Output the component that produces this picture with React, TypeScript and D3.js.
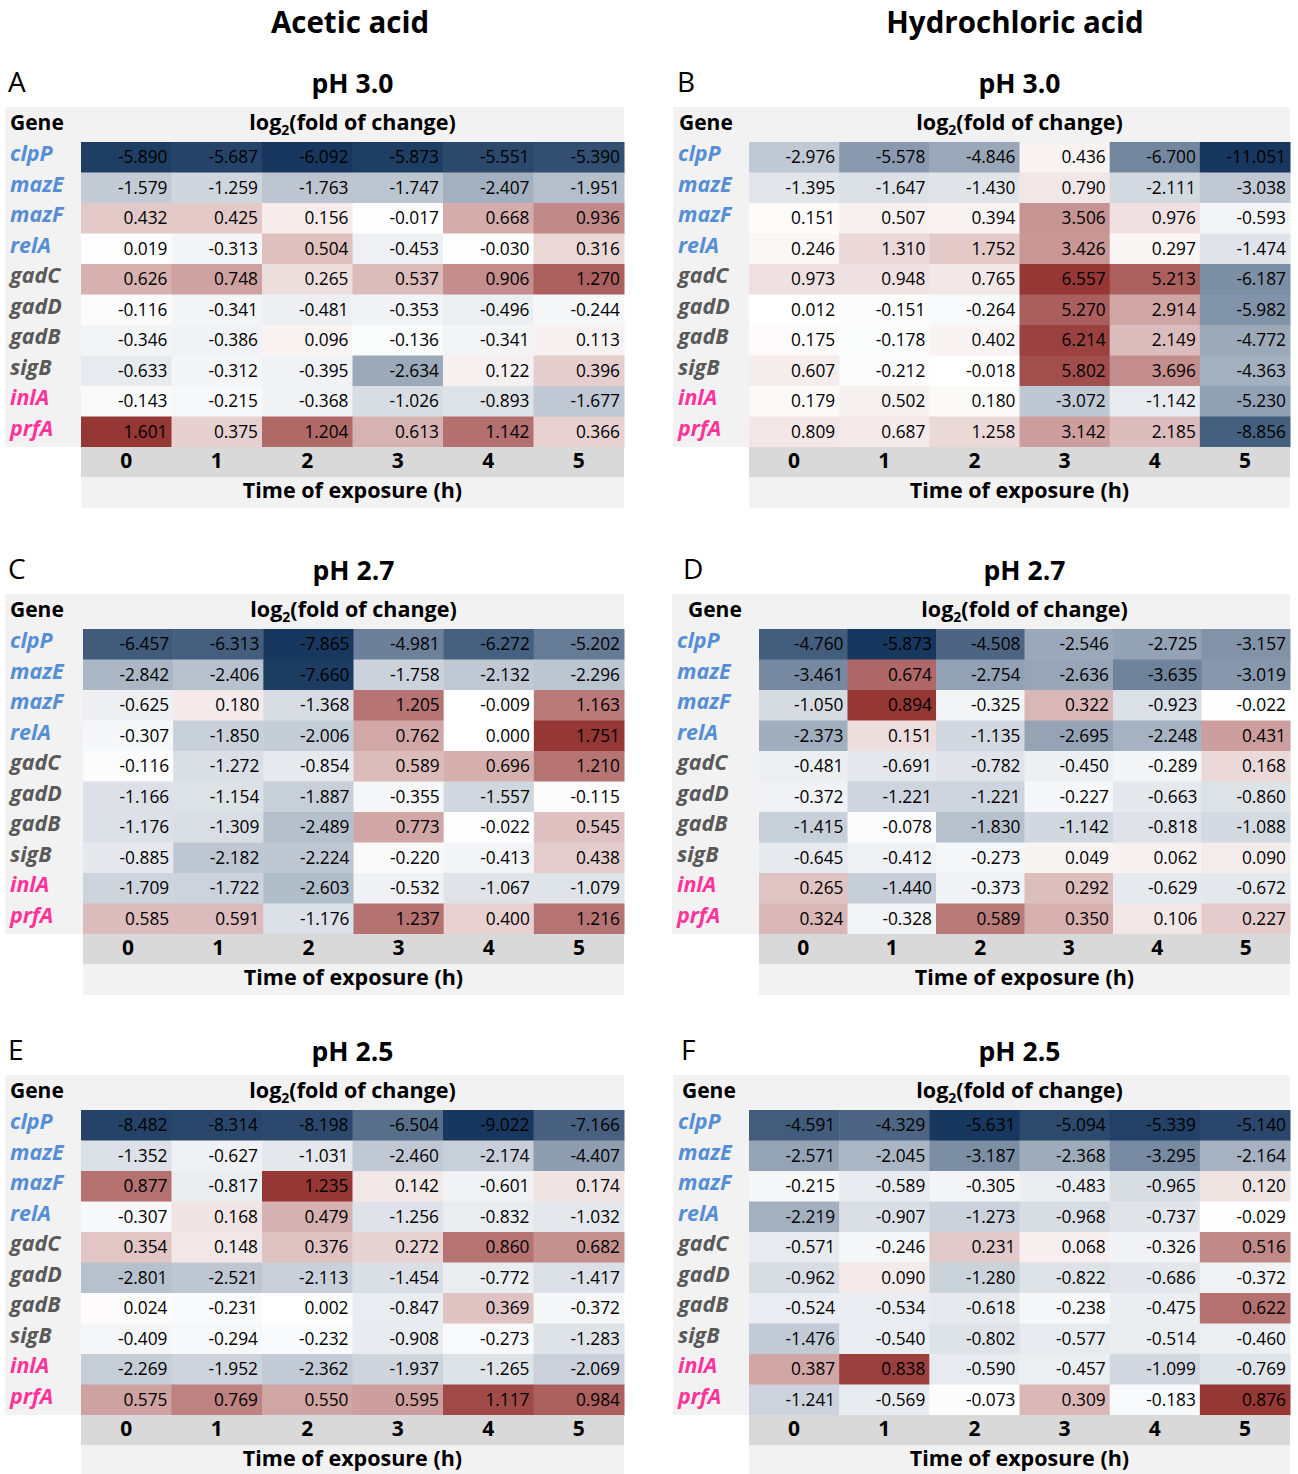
import React from "react";
import * as d3 from "d3";

// Genes (rows) and exposure times (columns)
const genes = ["clpP", "mazE", "mazF", "relA", "gadC", "gadD", "gadB", "sigB", "inlA", "prfA"];
const times = ["0", "1", "2", "3", "4", "5"];

// log2(fold of change) per gene (rows) x time (columns)
const aceticPH30 = [
  [-5.89, -5.687, -6.092, -5.873, -5.551, -5.39],
  [-1.579, -1.259, -1.763, -1.747, -2.407, -1.951],
  [0.432, 0.425, 0.156, -0.017, 0.668, 0.936],
  [0.019, -0.313, 0.504, -0.453, -0.03, 0.316],
  [0.626, 0.748, 0.265, 0.537, 0.906, 1.27],
  [-0.116, -0.341, -0.481, -0.353, -0.496, -0.244],
  [-0.346, -0.386, 0.096, -0.136, -0.341, 0.113],
  [-0.633, -0.312, -0.395, -2.634, 0.122, 0.396],
  [-0.143, -0.215, -0.368, -1.026, -0.893, -1.677],
  [1.601, 0.375, 1.204, 0.613, 1.142, 0.366],
];

const hclPH30 = [
  [-2.976, -5.578, -4.846, 0.436, -6.7, -11.051],
  [-1.395, -1.647, -1.43, 0.79, -2.111, -3.038],
  [0.151, 0.507, 0.394, 3.506, 0.976, -0.593],
  [0.246, 1.31, 1.752, 3.426, 0.297, -1.474],
  [0.973, 0.948, 0.765, 6.557, 5.213, -6.187],
  [0.012, -0.151, -0.264, 5.27, 2.914, -5.982],
  [0.175, -0.178, 0.402, 6.214, 2.149, -4.772],
  [0.607, -0.212, -0.018, 5.802, 3.696, -4.363],
  [0.179, 0.502, 0.18, -3.072, -1.142, -5.23],
  [0.809, 0.687, 1.258, 3.142, 2.185, -8.856],
];

const aceticPH27 = [
  [-6.457, -6.313, -7.865, -4.981, -6.272, -5.202],
  [-2.842, -2.406, -7.66, -1.758, -2.132, -2.296],
  [-0.625, 0.18, -1.368, 1.205, -0.009, 1.163],
  [-0.307, -1.85, -2.006, 0.762, 0.0, 1.751],
  [-0.116, -1.272, -0.854, 0.589, 0.696, 1.21],
  [-1.166, -1.154, -1.887, -0.355, -1.557, -0.115],
  [-1.176, -1.309, -2.489, 0.773, -0.022, 0.545],
  [-0.885, -2.182, -2.224, -0.22, -0.413, 0.438],
  [-1.709, -1.722, -2.603, -0.532, -1.067, -1.079],
  [0.585, 0.591, -1.176, 1.237, 0.4, 1.216],
];

const hclPH27 = [
  [-4.76, -5.873, -4.508, -2.546, -2.725, -3.157],
  [-3.461, 0.674, -2.754, -2.636, -3.635, -3.019],
  [-1.05, 0.894, -0.325, 0.322, -0.923, -0.022],
  [-2.373, 0.151, -1.135, -2.695, -2.248, 0.431],
  [-0.481, -0.691, -0.782, -0.45, -0.289, 0.168],
  [-0.372, -1.221, -1.221, -0.227, -0.663, -0.86],
  [-1.415, -0.078, -1.83, -1.142, -0.818, -1.088],
  [-0.645, -0.412, -0.273, 0.049, 0.062, 0.09],
  [0.265, -1.44, -0.373, 0.292, -0.629, -0.672],
  [0.324, -0.328, 0.589, 0.35, 0.106, 0.227],
];

const aceticPH25 = [
  [-8.482, -8.314, -8.198, -6.504, -9.022, -7.166],
  [-1.352, -0.627, -1.031, -2.46, -2.174, -4.407],
  [0.877, -0.817, 1.235, 0.142, -0.601, 0.174],
  [-0.307, 0.168, 0.479, -1.256, -0.832, -1.032],
  [0.354, 0.148, 0.376, 0.272, 0.86, 0.682],
  [-2.801, -2.521, -2.113, -1.454, -0.772, -1.417],
  [0.024, -0.231, 0.002, -0.847, 0.369, -0.372],
  [-0.409, -0.294, -0.232, -0.908, -0.273, -1.283],
  [-2.269, -1.952, -2.362, -1.937, -1.265, -2.069],
  [0.575, 0.769, 0.55, 0.595, 1.117, 0.984],
];

const hclPH25 = [
  [-4.591, -4.329, -5.631, -5.094, -5.339, -5.14],
  [-2.571, -2.045, -3.187, -2.368, -3.295, -2.164],
  [-0.215, -0.589, -0.305, -0.483, -0.965, 0.12],
  [-2.219, -0.907, -1.273, -0.968, -0.737, -0.029],
  [-0.571, -0.246, 0.231, 0.068, -0.326, 0.516],
  [-0.962, 0.09, -1.28, -0.822, -0.686, -0.372],
  [-0.524, -0.534, -0.618, -0.238, -0.475, 0.622],
  [-1.476, -0.54, -0.802, -0.577, -0.514, -0.46],
  [0.387, 0.838, -0.59, -0.457, -1.099, -0.769],
  [-1.241, -0.569, -0.073, 0.309, -0.183, 0.876],
];

const columnTitles = ["Acetic acid", "Hydrochloric acid"];

const FONT = "'Open Sans', 'Noto Sans', sans-serif";
const NAVY = "#17375e";
const RED = "#953735";
const LIGHT = "#f2f2f2";
const AXIS_BG = "#d9d9d9";

const geneColor = (g: string) => {
  if (["clpP", "mazE", "mazF", "relA"].includes(g)) return "#558ed5";
  if (["inlA", "prfA"].includes(g)) return "#ff3399";
  return "#595959";
};

type PanelProps = {
  letter: string;
  title: string;
  values: number[][];
  left: number;
  cellLeft: number;
  right: number;
  top: number;
  letterX: number;
  geneX: number;
};

const HEADER_H = 35;
const ROW_H = 30.5;
const AXIS_H = 30;
const TIME_H = 31;

function Panel({ letter, title, values, left, cellLeft, right, top, letterX, geneX }: PanelProps) {
  const rowsTop = top + HEADER_H;
  const rowsBottom = rowsTop + ROW_H * genes.length;
  const x = d3.scaleBand<string>().domain(times).range([cellLeft, right]);
  const y = d3.scaleBand<string>().domain(genes).range([rowsTop, rowsBottom]);
  const flat = values.flat();
  const lo = d3.min(flat) as number;
  const hi = d3.max(flat) as number;
  const color = d3
    .scaleLinear<string>()
    .domain([lo, 0, hi])
    .range([NAVY, "#ffffff", RED])
    .interpolate(d3.interpolateRgb)
    .clamp(true);
  const midX = (cellLeft + right) / 2;

  return (
    <g>
      <text x={letterX} y={top - 15} fontFamily={FONT} fontSize={28} fill="#000">
        {letter}
      </text>
      <text x={midX} y={top - 14} textAnchor="middle" fontFamily={FONT} fontSize={26.5} fontWeight={700} fill="#000">
        {title}
      </text>
      {/* header band and gene column */}
      <rect x={left} y={top} width={right - left} height={HEADER_H} fill={LIGHT} />
      <rect x={left} y={rowsTop} width={cellLeft - left} height={rowsBottom - rowsTop} fill={LIGHT} />
      <text x={geneX} y={top + 23} fontFamily={FONT} fontSize={21} fontWeight={700} fill="#000">
        Gene
      </text>
      <text x={midX} y={top + 23} textAnchor="middle" fontFamily={FONT} fontSize={21.5} fontWeight={700} fill="#000">
        log
        <tspan fontSize={14} dy={5}>2</tspan>
        <tspan dy={-5}>(fold of change)</tspan>
      </text>
      {genes.map((g, gi) => (
        <g key={g}>
          <text
            x={left + 5}
            y={(y(g) as number) + 19}
            fontFamily={FONT}
            fontSize={21.5}
            fontWeight={700}
            fontStyle="italic"
            fill={geneColor(g)}
          >
            {g}
          </text>
          {times.map((t, ti) => {
            const v = values[gi][ti];
            return (
              <g key={t}>
                <rect
                  x={x(t)}
                  y={y(g)}
                  width={x.bandwidth() + 0.5}
                  height={y.bandwidth() + 0.5}
                  fill={color(v)}
                />
                <text
                  x={(x(t) as number) + x.bandwidth() - 4}
                  y={(y(g) as number) + 21}
                  textAnchor="end"
                  fontFamily={FONT}
                  fontSize={17.3}
                  fill="#000"
                >
                  {v.toFixed(3)}
                </text>
              </g>
            );
          })}
        </g>
      ))}
      {/* time axis */}
      <rect x={cellLeft} y={rowsBottom} width={right - cellLeft} height={AXIS_H} fill={AXIS_BG} />
      {times.map((t) => (
        <text
          key={t}
          x={(x(t) as number) + x.bandwidth() / 2}
          y={rowsBottom + 21}
          textAnchor="middle"
          fontFamily={FONT}
          fontSize={21}
          fontWeight={700}
          fill="#000"
        >
          {t}
        </text>
      ))}
      <rect x={cellLeft} y={rowsBottom + AXIS_H} width={right - cellLeft} height={TIME_H} fill={LIGHT} />
      <text
        x={midX}
        y={rowsBottom + AXIS_H + 21}
        textAnchor="middle"
        fontFamily={FONT}
        fontSize={21.5}
        fontWeight={700}
        fill="#000"
      >
        Time of exposure (h)
      </text>
    </g>
  );
}

export default function App() {
  return (
    <svg
      width={1298}
      height={1474}
      style={{ position: "absolute", left: 0, top: 0, background: "#fff" }}
    >
      <text x={350} y={33} textAnchor="middle" fontFamily={FONT} fontSize={29.5} fontWeight={700}>
        {columnTitles[0]}
      </text>
      <text x={1015} y={33} textAnchor="middle" fontFamily={FONT} fontSize={29.5} fontWeight={700}>
        {columnTitles[1]}
      </text>
      <Panel letter="A" title="pH 3.0" values={aceticPH30} left={5} cellLeft={81} right={624} top={107} letterX={8} geneX={10} />
      <Panel letter="B" title="pH 3.0" values={hclPH30} left={673} cellLeft={749} right={1290} top={107} letterX={677} geneX={679} />
      <Panel letter="C" title="pH 2.7" values={aceticPH27} left={5} cellLeft={83} right={624} top={594} letterX={8} geneX={10} />
      <Panel letter="D" title="pH 2.7" values={hclPH27} left={672} cellLeft={759} right={1290} top={594} letterX={683} geneX={688} />
      <Panel letter="E" title="pH 2.5" values={aceticPH25} left={5} cellLeft={81} right={624} top={1075} letterX={8} geneX={10} />
      <Panel letter="F" title="pH 2.5" values={hclPH25} left={673} cellLeft={749} right={1290} top={1075} letterX={681} geneX={682} />
    </svg>
  );
}
